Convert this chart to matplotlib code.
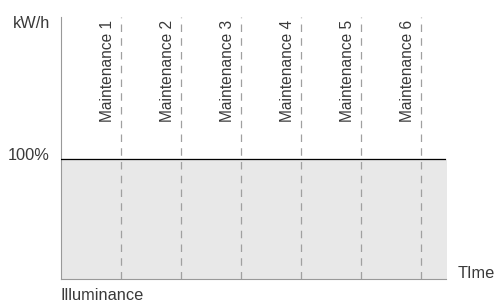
import matplotlib.pyplot as plt
import numpy as np

plt.rcParams['font.family'] = ['Liberation Sans', 'DejaVu Sans']

# dane
etykiety = ["Maintenance 1", "Maintenance 2", "Maintenance 3",
            "Maintenance 4", "Maintenance 5", "Maintenance 6"]
pozycje = [1, 2, 3, 4, 5, 6]
czas = [0, 6.42]
poziom = [1.0, 1.0]

fig = plt.figure(figsize=(4.96, 3.03), dpi=100)
ax = fig.add_axes([61 / 496, 24 / 303, 385 / 496, 262 / 303])
ax.set_xlim(0, 6.42)
ax.set_ylim(0, 2.183)

ax.fill_between(czas, 0, poziom, color='#e8e8e8', zorder=1)
ax.plot(czas, poziom, color='black', lw=0.9, zorder=3)

for x, lab in zip(pozycje, etykiety):
    ax.axvline(x, color='#a0a0a0', lw=0.9, ls=(0, (6, 5)), zorder=2)
    ax.text(x - 0.23, 2.155, lab, rotation=90, ha='center', va='top',
            fontsize=11.2, color='#3a3a3a')

for s in ['top', 'right']:
    ax.spines[s].set_visible(False)
ax.spines['left'].set_color('#999999')
ax.spines['bottom'].set_color('#999999')
ax.set_xticks([])
ax.set_yticks([])

kolor = '#3a3a3a'
fs = 11.8
fig.text(50 / 496, 1 - 24 / 303, "kW/h", ha='right', va='center', fontsize=fs, color=kolor)
fig.text(50 / 496, 1 - 156 / 303, "100%", ha='right', va='center', fontsize=fs, color=kolor)
fig.text(458 / 496, 1 - 273 / 303, "TIme", ha='left', va='center', fontsize=fs, color=kolor)
fig.text(61 / 496, 1 - 296 / 303, "Illuminance", ha='left', va='center', fontsize=fs, color=kolor)

plt.savefig("out.png", dpi=100)
